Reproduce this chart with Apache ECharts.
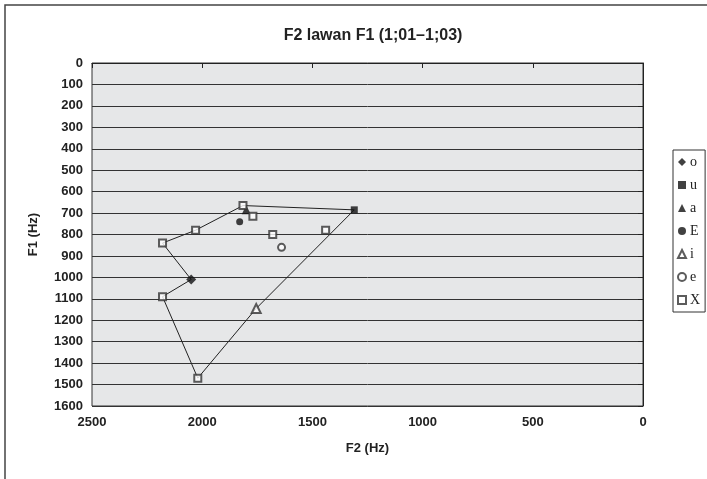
<!DOCTYPE html>
<html>
<head>
<meta charset="utf-8">
<script src="https://cdn.jsdelivr.net/npm/echarts@6/dist/echarts.min.js"></script>
<style>
  html, body { margin: 0; padding: 0; background: #fff; }
  #chart { width: 707px; height: 479px; }
</style>
</head>
<body>
<div id="chart"></div>
<script>
// data: [F2, F1]
const vowelO = [[2050, 1010]];
const vowelU = [[1310, 685]];
const vowelA = [[1800, 685]];
const vowelE = [[1830, 740]];
const vowelI = [[1755, 1145]];
const vowelSmallE = [[1640, 860]];
const vowelX = [
  [1815, 665], [1770, 715], [2030, 780], [2180, 840],
  [1680, 800], [1440, 780], [2180, 1090], [2020, 1470]
];
// outline of the vowel space
const outline = [
  [1815, 665], [1310, 685], [1755, 1145], [2020, 1470],
  [2180, 1090], [2050, 1010], [2180, 840], [2030, 780], [1815, 665]
];

const chart = echarts.init(document.getElementById("chart"));

const font = "'Liberation Sans Narrow', 'Liberation Sans', Arial, sans-serif";

function pts(name, data, symbol, size, empty) {
  return {
    name: name,
    type: "scatter",
    data: data,
    symbol: symbol,
    symbolSize: size,
    itemStyle: empty
      ? { color: "#333", borderColor: "#333", borderWidth: 1 }
      : { color: "#111", borderWidth: 0 },
    z: 3,
  };
}

const options = {
  animation: false,
  title: {
    text: "F2 lawan F1 (1;01\u20131;03)",
    left: 368,
    textAlign: "center",
    top: 23,
    textStyle: { fontFamily: font, fontSize: 16, fontWeight: "bold", color: "#222" },
  },
  graphic: [
    {
      type: "rect",
      shape: { x: 5, y: 5, width: 760, height: 520 },
      style: { fill: "none", stroke: "#444", lineWidth: 1.5 },
      silent: true,
    },
  ],
  grid: {
    left: 92,
    right: 64,
    top: 63,
    bottom: 73,
    show: true,
    backgroundColor: "#e6e7e8",
    borderColor: "#333",
    borderWidth: 1,
  },
  legend: {
    orient: "vertical",
    left: 673,
    top: 150,
    data: ["o", "u", "a", "E", "i", "e", "X"],
    itemWidth: 8,
    itemHeight: 8,
    itemGap: 9,
    padding: [5, 5, 5, 4],
    borderColor: "#333",
    borderWidth: 1,
    textStyle: { fontFamily: "'Liberation Serif', serif", fontSize: 14, color: "#222", padding: [0, 0, 0, -1] },
  },
  xAxis: {
    type: "value",
    inverse: true,
    min: 0,
    max: 2500,
    interval: 500,
    name: "F2 (Hz)",
    nameLocation: "middle",
    nameGap: 36,
    nameTextStyle: { fontFamily: font, fontSize: 13, fontWeight: "bold", color: "#222" },
    axisLine: { lineStyle: { color: "#222", width: 1 } },
    axisTick: { show: true, length: 5, lineStyle: { color: "#222" } },
    axisLabel: {
      fontFamily: font, fontSize: 13, fontWeight: "bold", color: "#222", margin: 10,
      formatter: (v) => String(v),
    },
    splitLine: { show: false },
  },
  yAxis: {
    type: "value",
    inverse: true,
    min: 0,
    max: 1600,
    interval: 100,
    name: "F1 (Hz)",
    nameLocation: "middle",
    nameRotate: 90,
    nameGap: 52,
    nameTextStyle: { fontFamily: font, fontSize: 13, fontWeight: "bold", color: "#222" },
    axisLine: { lineStyle: { color: "#222", width: 1 } },
    axisTick: { show: true, length: 5, lineStyle: { color: "#222" } },
    axisLabel: {
      fontFamily: font, fontSize: 13, fontWeight: "bold", color: "#222", margin: 9,
      formatter: (v) => String(v),
    },
    splitLine: { show: true, lineStyle: { color: "#333", width: 1 } },
  },
  series: [
    {
      name: "outline",
      type: "line",
      data: outline,
      symbol: "none",
      lineStyle: { color: "#222", width: 1 },
      z: 2,
    },
    pts("o", vowelO, "diamond", 10, false),
    pts("u", vowelU, "rect", 7, false),
    pts("a", vowelA, "triangle", 9, false),
    pts("E", vowelE, "circle", 7, false),
    pts("i", vowelI, "emptyTriangle", 9, true),
    pts("e", vowelSmallE, "emptyCircle", 7, true),
    pts("X", vowelX, "emptyRect", 7, true),
  ],
};

chart.setOption(options);
</script>
</body>
</html>
